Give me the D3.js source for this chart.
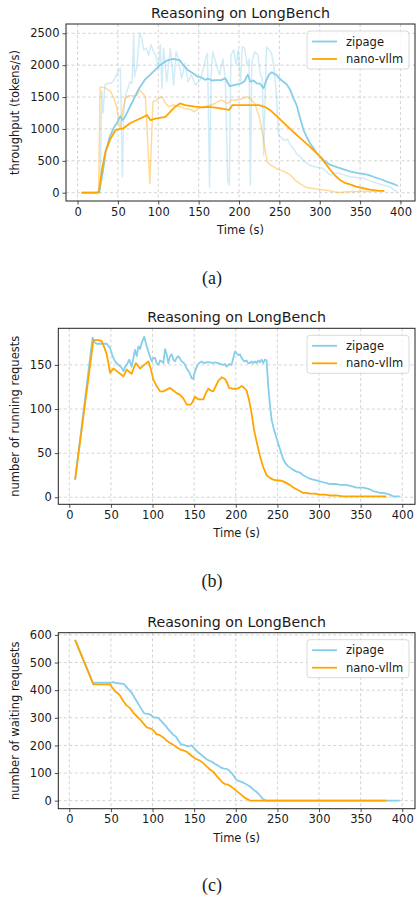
<!DOCTYPE html>
<html>
<head>
<meta charset="utf-8">
<script src="https://cdn.jsdelivr.net/npm/d3@7"></script>
<style>
  body { margin: 0; background: #fff; }
  svg { display: block; }
  text { font-family: "DejaVu Sans", sans-serif; fill: #1a1a1a; }
</style>
</head>
<body>
<div id="chart"></div>
<script>
// ---- data (time in s, value) ----
const seriesNames = ["zipage", "nano-vllm"];
const xTicks = [0, 50, 100, 150, 200, 250, 300, 350, 400];
const yTicksA = [0, 500, 1000, 1500, 2000, 2500];
const yTicksB = [0, 50, 100, 150];
const yTicksC = [0, 100, 200, 300, 400, 500, 600];

// (a) throughput
const zipageRaw = [[5,0],[26,0],[28,0],[30,1600],[31.5,1250],[34,1690],[38,1715],[42,1715],[46,1790],[50,1900],[53,1950],[55.5,250],[57,1245],[60,1560],[63,1660],[65,1740],[67.5,1715],[69.5,2470],[70.5,1820],[73.5,1980],[77,2500],[79.5,2420],[82,2240],[85,2265],[88,2160],[91,2320],[94,2215],[96.5,2160],[98.5,2055],[100.5,1950],[102.5,2320],[104.5,1640],[106.5,2265],[110.5,1740],[115,2265],[119,1690],[122,2215],[125,2100],[129,1790],[133,2030],[137,1740],[141,1850],[146,1690],[152,1770],[156,1950],[159,2130],[161,2185],[163.5,90],[165.5,1850],[167.5,2210],[170,2100],[173,1950],[176,1850],[180,2100],[183,1790],[186,200],[188,120],[190,2160],[193.5,2240],[196.5,2000],[199,2240],[202,1740],[204,2290],[207,2265],[210,2000],[212.5,2100],[214,120],[216,2050],[219.5,2210],[223.5,2160],[226.5,1850],[229,1790],[230.5,590],[234,2290],[237.5,2240],[240,2200],[243,2000],[246,1600],[249,900],[252,870],[256,820],[260,840],[263,760],[267,700],[272,600],[276,565],[280,500],[284.5,460],[288,430],[292.5,410],[300,390],[304.5,380],[309,320],[313,280],[318,310],[325,300],[330,280],[337.5,250],[345,240],[354,225],[362,190],[370.5,150],[378,120],[387.5,90],[392,40],[396,15]];
const zipageSmooth = [[5,0],[26,0],[28,100],[31,300],[35,650],[40,880],[45,1020],[50,1120],[53,1200],[55.5,1140],[58,1170],[63,1300],[69,1450],[75,1610],[83,1765],[94,1900],[102,2000],[111,2075],[119,2100],[127,2075],[131,2000],[137,1920],[143.5,1870],[149,1820],[153,1810],[158,1770],[162,1790],[166,1760],[172,1765],[178,1765],[183,1795],[188.5,1670],[195,1690],[203,1715],[207,1750],[209.5,1820],[211,1850],[214,1740],[218,1760],[222,1715],[226,1710],[228,1680],[230.5,1640],[234,1770],[237,1850],[240.5,1890],[246.5,1845],[251,1780],[255,1740],[259,1700],[263.5,1610],[267.5,1480],[271.5,1370],[275.5,1180],[280,980],[284,870],[288,775],[296.5,620],[304.5,515],[313,435],[325,385],[337.5,335],[345,310],[354,295],[360,280],[366.5,250],[375,215],[383,175],[391,140],[397,105]];
const nanoRaw = [[5,0],[26,0],[28,1660],[35,1640],[41,1585],[45,1480],[49,1320],[51.5,1060],[53,1000],[56,1300],[59,1480],[63,1520],[69,1520],[73.5,1530],[77,1610],[81,1560],[84,1500],[86.5,900],[89.5,150],[93.5,1430],[97,1440],[100.5,1480],[104.5,1505],[109,1400],[113,1350],[119,1375],[127,1350],[133,1320],[141,1300],[145,1270],[149,1320],[157,1350],[165.5,1375],[170,1400],[178,1455],[182,1430],[186,1400],[190.5,1455],[197,1455],[203,1470],[209,1505],[213.5,1480],[219.5,1400],[225.5,1170],[229.5,905],[232,700],[235,480],[240,430],[246,380],[252,350],[258,320],[264,270],[270,190],[276,140],[284,80],[292,65],[300,52],[310,35],[318,15],[325,3],[333,15],[345,20],[380,25]];
const nanoSmooth = [[5,0],[24,0],[26.5,20],[30.5,380],[34.5,640],[41,850],[47,980],[53,1000],[57,1010],[65,1090],[73.5,1140],[82,1190],[86,1220],[90,1140],[98,1165],[109,1190],[115,1270],[121,1350],[127,1400],[133,1375],[146,1350],[155,1340],[163,1345],[175,1325],[188,1300],[192,1375],[225,1375],[233,1340],[240,1280],[251,1150],[260,1040],[271.5,905],[280,810],[288,720],[300.5,565],[307,460],[313,360],[319,270],[325,200],[331,155],[337.5,130],[345,95],[354,70],[362,50],[371,32],[380,28]];

// (b) running requests
const zipageRunning = [[7,20],[28,181],[30,176],[33,174],[45,174],[49,169],[52,160],[55,154],[59,150],[62,148],[65,143],[67,148],[69,150],[72,156],[75,148],[77,158],[79,167],[81,160],[83,171],[85,168],[87,175],[90,182],[93,171],[96,162],[99,154],[101,158],[103,158],[105,152],[107,150],[109,155],[111,154],[113,152],[115,168],[117,162],[119,152],[121,160],[123,162],[125,156],[127,154],[129,158],[131,160],[133,157],[135,154],[138,152],[141,146],[144,142],[147,135],[149,134],[150,139],[152,145],[154,150],[156,152],[159,154],[162,152],[165,153],[169,153],[172,152],[175,153],[179,152],[182,151],[185,150],[187,151],[189,148],[191,150],[193,151],[195,150],[197,158],[199,165],[201,163],[203,161],[205,162],[207,158],[209,155],[211,154],[213,155],[215,152],[217,152],[219,154],[221,152],[223,154],[225,152],[227,155],[229,153],[231,156],[233,152],[235,156],[237,155],[239,126],[241,105],[243,88],[245,80],[248,70],[251,61],[254,52],[257,43],[260,38],[263,35],[266,33],[269,31],[273,29],[277,28],[281,25],[285,23],[289,21],[293,20],[297,19],[301,18],[305,17],[309,16],[313,15],[321,15],[325,14],[333,14],[337,13],[341,12],[345,11],[353,11],[357,10],[361,9],[365,7],[369,6],[373,5],[377,5],[381,4],[385,3],[387,2],[389,1],[397,1]];
const nanoRunning = [[7,20],[29,178],[35,178],[39,177],[42,170],[45,162],[49,141],[53,146],[57,143],[61,140],[65,137],[69,145],[72,142],[75,140],[78,148],[80,152],[85,146],[90,150],[95,154],[98,145],[101,133],[105,126],[109,120],[113,120],[117,122],[121,124],[125,121],[129,118],[133,116],[137,112],[141,105],[146,105],[148,108],[151,114],[155,111],[161,111],[164,118],[167,123],[170,121],[173,120],[176,126],[179,132],[183,136],[187,134],[189,131],[192,124],[196,123],[201,123],[204,124],[207,126],[210,124],[213,121],[216,110],[219,95],[222,76],[225,63],[229,47],[233,34],[237,25],[241,22],[245,20],[249,19],[253,19],[257,18],[261,16],[265,14],[269,11],[273,9],[277,7],[281,5],[285,5],[289,4],[295,4],[301,3],[307,3],[313,2],[320,2],[329,1],[340,1],[381,1]];

// (c) waiting requests
const zipageWaiting = [[7,582],[29,421],[31,427],[51,427],[53,430],[55,426],[65,423],[67,418],[69,410],[72,400],[75,390],[78,375],[81,360],[84,345],[87,330],[90,316],[95,314],[98,310],[101,302],[107,300],[110,290],[113,280],[116,270],[119,258],[122,248],[125,238],[128,232],[131,218],[134,205],[137,203],[141,198],[144,197],[147,200],[150,190],[153,180],[157,170],[161,160],[165,150],[168,145],[172,140],[175,133],[179,127],[182,120],[186,116],[189,115],[192,110],[195,100],[198,88],[200,78],[203,72],[207,68],[211,62],[215,55],[218,50],[221,40],[224,34],[227,26],[230,15],[232,8],[235,2],[237,0],[397,0]];
const nanoWaiting = [[7,582],[29,421],[49,421],[52,408],[55,396],[58,389],[61,380],[65,360],[69,344],[73,335],[77,318],[81,306],[85,294],[89,280],[93,265],[97,262],[101,255],[105,240],[109,237],[113,229],[117,217],[121,209],[125,202],[129,193],[133,186],[137,182],[141,177],[145,167],[149,157],[153,150],[157,145],[161,136],[165,124],[169,113],[173,105],[177,90],[181,76],[184,66],[187,60],[191,58],[195,50],[199,40],[203,30],[207,20],[211,10],[215,4],[217,0],[381,0]];

const BLUE = "#87ceeb", ORANGE = "#ffa500";

const svg = d3.select("#chart").append("svg").attr("width", 416).attr("height", 902);
svg.append("rect").attr("width", 416).attr("height", 902).attr("fill", "#fff");

function panel(p) {
  const x = d3.scaleLinear().domain(p.xDomain).range([p.left, p.right]);
  const y = d3.scaleLinear().domain(p.yDomain).range([p.bottom, p.top]);
  const g = svg.append("g");

  // grid
  g.append("g").selectAll("line.gx").data(xTicks).join("line")
    .attr("x1", d => x(d)).attr("x2", d => x(d)).attr("y1", p.top).attr("y2", p.bottom)
    .attr("stroke", "#c8c8c8").attr("stroke-width", 0.8).attr("stroke-dasharray", "3,2.5");
  g.append("g").selectAll("line.gy").data(p.yTicks).join("line")
    .attr("x1", p.left).attr("x2", p.right).attr("y1", d => y(d)).attr("y2", d => y(d))
    .attr("stroke", "#c8c8c8").attr("stroke-width", 0.8).attr("stroke-dasharray", "3,2.5");

  const clipId = "clip" + p.id;
  g.append("clipPath").attr("id", clipId).append("rect")
    .attr("x", p.left).attr("y", p.top).attr("width", p.right - p.left).attr("height", p.bottom - p.top);

  const line = d3.line().x(d => x(d[0])).y(d => y(d[1]));
  const lines = g.append("g").attr("clip-path", `url(#${clipId})`);
  p.series.forEach(s => {
    lines.append("path").datum(s.data).attr("d", line).attr("fill", "none")
      .attr("stroke", s.color).attr("stroke-width", s.width || 1.8)
      .attr("stroke-opacity", s.alpha || 1).attr("stroke-linejoin", "round");
  });

  // axes
  const fmt = d3.format("d");
  const xAxis = d3.axisBottom(x).tickValues(xTicks).tickFormat(fmt).tickSize(3.5).tickPadding(3).tickSizeOuter(0);
  const yAxis = d3.axisLeft(y).tickValues(p.yTicks).tickFormat(fmt).tickSize(3.5).tickPadding(3).tickSizeOuter(0);
  const xa = g.append("g").attr("transform", `translate(0,${p.bottom})`).call(xAxis);
  const ya = g.append("g").attr("transform", `translate(${p.left},0)`).call(yAxis);
  [xa, ya].forEach(a => {
    a.select(".domain").remove();
    a.selectAll(".tick line").attr("stroke", "#222").attr("stroke-width", 0.8);
    a.selectAll(".tick text").attr("font-size", 11.5).attr("fill", "#1a1a1a");
  });
  g.append("rect").attr("x", p.left).attr("y", p.top)
    .attr("width", p.right - p.left).attr("height", p.bottom - p.top)
    .attr("fill", "none").attr("stroke", "#222").attr("stroke-width", 1);

  // labels
  g.append("text").attr("x", (p.left + p.right) / 2).attr("y", p.top - 6)
    .attr("text-anchor", "middle").attr("font-size", 14.2).text("Reasoning on LongBench");
  g.append("text").attr("x", (p.left + p.right) / 2).attr("y", p.bottom + 33)
    .attr("text-anchor", "middle").attr("font-size", 11.5).text("Time (s)");
  g.append("text").attr("transform", `translate(${p.yLabelX},${(p.top + p.bottom) / 2}) rotate(-90)`)
    .attr("text-anchor", "middle").attr("font-size", 11.5).text(p.yLabel);

  // legend
  const lg = g.append("g").attr("transform", `translate(${p.right - 108},${p.top + 7})`);
  lg.append("rect").attr("width", 102).attr("height", 38).attr("rx", 3)
    .attr("fill", "#fff").attr("fill-opacity", 0.8).attr("stroke", "#d0d0d0").attr("stroke-width", 0.8);
  seriesNames.forEach((name, i) => {
    const yy = 10.5 + i * 17.5;
    lg.append("line").attr("x1", 5).attr("x2", 30).attr("y1", yy).attr("y2", yy)
      .attr("stroke", i === 0 ? BLUE : ORANGE).attr("stroke-width", 1.8);
    lg.append("text").attr("x", 39).attr("y", yy + 4).attr("font-size", 11.5).text(name);
  });

  svg.append("text").attr("x", 212).attr("y", p.caption)
    .attr("text-anchor", "middle").attr("font-size", 18)
    .style("font-family", "'Liberation Serif', serif").text(p.captionText);
}

panel({
  id: "a", left: 66, right: 415, top: 24, bottom: 201,
  xDomain: [-14.3, 418], yDomain: [-130, 2646], yTicks: yTicksA,
  yLabel: "throughput (tokens/s)", yLabelX: 19, caption: 284, captionText: "(a)",
  series: [
    { data: zipageRaw, color: BLUE, alpha: 0.38, width: 1.5 },
    { data: nanoRaw, color: ORANGE, alpha: 0.4, width: 1.5 },
    { data: zipageSmooth, color: BLUE },
    { data: nanoSmooth, color: ORANGE }
  ]
});

panel({
  id: "b", left: 58.3, right: 415, top: 328.3, bottom: 504.3,
  xDomain: [-13.2, 415.3], yDomain: [-8, 191.5], yTicks: yTicksB,
  yLabel: "number of running requests", yLabelX: 19, caption: 587, captionText: "(b)",
  series: [
    { data: zipageRunning, color: BLUE },
    { data: nanoRunning, color: ORANGE }
  ]
});

panel({
  id: "c", left: 58.3, right: 415, top: 632.7, bottom: 808.7,
  xDomain: [-13.2, 415.3], yDomain: [-29, 608], yTicks: yTicksC,
  yLabel: "number of waiting requests", yLabelX: 19, caption: 891, captionText: "(c)",
  series: [
    { data: zipageWaiting, color: BLUE },
    { data: nanoWaiting, color: ORANGE }
  ]
});
</script>
</body>
</html>
